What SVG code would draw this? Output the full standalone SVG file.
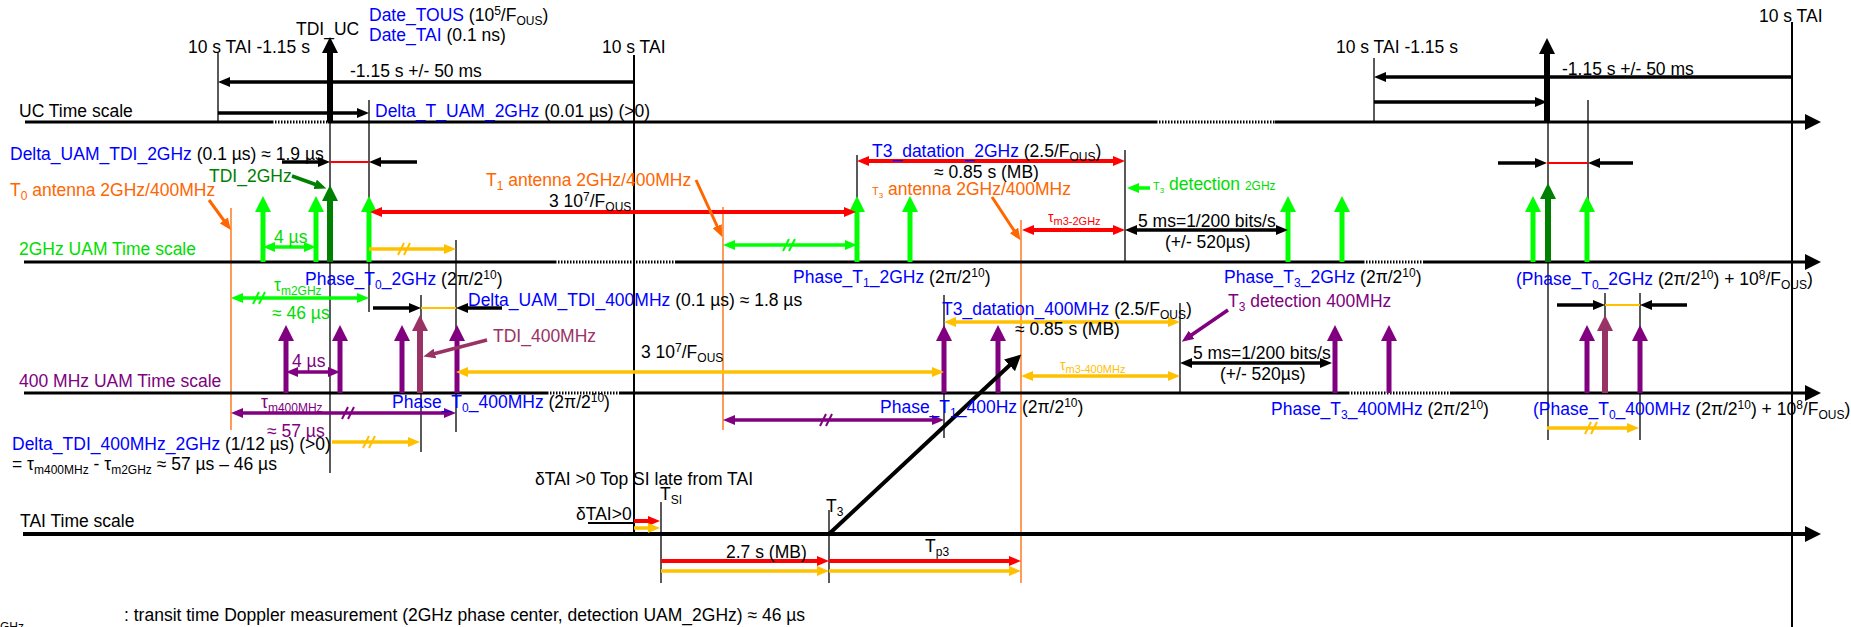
<svg xmlns="http://www.w3.org/2000/svg" width="1851" height="627" viewBox="0 0 1851 627">
<style>
text{font-family:"Liberation Sans",Arial,sans-serif;font-size:17.5px;fill:#000}
.b{fill:#0000ff}.g{fill:#00dd00}.dg{fill:#008000}.o{fill:#ff6600}.r{fill:#ff0000}.y{fill:#ffc000}.p{fill:#800080}.m{fill:#993366}
.s{font-size:12px}
.ax{stroke:#000;stroke-width:3}
.axt{stroke:#000;stroke-width:4}
.dot{stroke:#000;stroke-width:3;stroke-dasharray:1.5 1.5}
.thin{stroke:#000;stroke-width:1.3}
.thk{stroke:#000;stroke-width:2}
.ov{stroke:#ff6600;stroke-width:1.3}
.k{stroke:#000;stroke-width:3.5}
.kr{stroke:#ff0000;stroke-width:4}
.rl{stroke:#ff0000;stroke-width:2}
.yl{stroke:#ffc000;stroke-width:2}
.ky{stroke:#ffc000;stroke-width:3.5}
.kg{stroke:#00ff00;stroke-width:3.5}
.kp{stroke:#800080;stroke-width:3.5}
.ko{stroke:#ff6600;stroke-width:3}
.kd{stroke:#008000;stroke-width:3.5}
.km{stroke:#993366;stroke-width:3.5}
.vg{stroke:#00ff00;stroke-width:5}
.vd{stroke:#008000;stroke-width:6}
.vk{stroke:#000;stroke-width:6}
.vp{stroke:#800080;stroke-width:5}
.vm{stroke:#993366;stroke-width:6}
.sl{fill:none;stroke-width:2}
</style>
<defs>
<marker id="aK" viewBox="0 0 12 10" refX="2" refY="5" markerWidth="12" markerHeight="10" markerUnits="userSpaceOnUse" orient="auto-start-reverse"><path d="M0,0L12,5L0,10z" fill="#000"/></marker>
<marker id="aR" viewBox="0 0 12 10" refX="2" refY="5" markerWidth="12" markerHeight="10" markerUnits="userSpaceOnUse" orient="auto-start-reverse"><path d="M0,0L12,5L0,10z" fill="#ff0000"/></marker>
<marker id="aG" viewBox="0 0 12 10" refX="2" refY="5" markerWidth="12" markerHeight="10" markerUnits="userSpaceOnUse" orient="auto-start-reverse"><path d="M0,0L12,5L0,10z" fill="#00ff00"/></marker>
<marker id="aY" viewBox="0 0 12 10" refX="2" refY="5" markerWidth="12" markerHeight="10" markerUnits="userSpaceOnUse" orient="auto-start-reverse"><path d="M0,0L12,5L0,10z" fill="#ffc000"/></marker>
<marker id="aP" viewBox="0 0 12 10" refX="2" refY="5" markerWidth="12" markerHeight="10" markerUnits="userSpaceOnUse" orient="auto-start-reverse"><path d="M0,0L12,5L0,10z" fill="#800080"/></marker>
<marker id="aO" viewBox="0 0 12 10" refX="2" refY="5" markerWidth="12" markerHeight="10" markerUnits="userSpaceOnUse" orient="auto-start-reverse"><path d="M0,0L12,5L0,10z" fill="#ff6600"/></marker>
<marker id="aD" viewBox="0 0 12 10" refX="2" refY="5" markerWidth="12" markerHeight="10" markerUnits="userSpaceOnUse" orient="auto-start-reverse"><path d="M0,0L12,5L0,10z" fill="#008000"/></marker>
<marker id="aM" viewBox="0 0 12 10" refX="2" refY="5" markerWidth="12" markerHeight="10" markerUnits="userSpaceOnUse" orient="auto-start-reverse"><path d="M0,0L12,5L0,10z" fill="#993366"/></marker>
<marker id="HK" viewBox="0 0 16 16" refX="2" refY="8" markerWidth="16" markerHeight="16" markerUnits="userSpaceOnUse" orient="auto-start-reverse"><path d="M0,0L16,8L0,16z" fill="#000"/></marker>
<marker id="HG" viewBox="0 0 16 16" refX="2" refY="8" markerWidth="16" markerHeight="16" markerUnits="userSpaceOnUse" orient="auto"><path d="M0,0L16,8L0,16z" fill="#00ff00"/></marker>
<marker id="HD" viewBox="0 0 16 16" refX="2" refY="8" markerWidth="16" markerHeight="16" markerUnits="userSpaceOnUse" orient="auto"><path d="M0,0L16,8L0,16z" fill="#008000"/></marker>
<marker id="HP" viewBox="0 0 16 16" refX="2" refY="8" markerWidth="16" markerHeight="16" markerUnits="userSpaceOnUse" orient="auto"><path d="M0,0L16,8L0,16z" fill="#800080"/></marker>
<marker id="HM" viewBox="0 0 16 16" refX="2" refY="8" markerWidth="16" markerHeight="16" markerUnits="userSpaceOnUse" orient="auto"><path d="M0,0L16,8L0,16z" fill="#993366"/></marker>
</defs>
<rect width="1851" height="627" fill="#fff"/>

<g id="guides">
<line class="thin" x1="218" y1="52" x2="218" y2="122"/>
<line class="thin" x1="330" y1="122" x2="330" y2="473"/>
<line class="thin" x1="369" y1="100" x2="369" y2="312"/>
<line class="thin" x1="421" y1="295" x2="421" y2="452"/>
<line class="thin" x1="456" y1="240" x2="456" y2="432"/>
<line class="thk" x1="634" y1="55" x2="634" y2="534"/>
<line class="thin" x1="857" y1="155" x2="857" y2="262"/>
<line class="thin" x1="1125" y1="150" x2="1125" y2="262"/>
<line class="thin" x1="944" y1="295" x2="944" y2="438"/>
<line class="thin" x1="1180" y1="303" x2="1180" y2="393"/>
<line class="thin" x1="1374" y1="58" x2="1374" y2="122"/>
<line class="thin" x1="1548" y1="122" x2="1548" y2="440"/>
<line class="thin" x1="1588" y1="100" x2="1588" y2="262"/>
<line class="thin" x1="1605" y1="293" x2="1605" y2="393"/>
<line class="thin" x1="1640" y1="293" x2="1640" y2="440"/>
<line class="thk" x1="1792" y1="22" x2="1792" y2="627"/>
<line class="thin" x1="661" y1="502" x2="661" y2="583"/>
<line class="thin" x1="829" y1="510" x2="829" y2="583"/>
<line class="ov" x1="231" y1="208" x2="231" y2="430"/>
<line class="ov" x1="723" y1="207" x2="723" y2="430"/>
<line class="ov" x1="1021" y1="220" x2="1021" y2="583"/>
</g>

<g id="uc-scale">
<line class="ax" x1="25" y1="122" x2="272" y2="122"/>
<line class="dot" x1="272" y1="122" x2="328" y2="122"/>
<line class="ax" x1="328" y1="122" x2="1156" y2="122"/>
<line class="dot" x1="1156" y1="122" x2="1275" y2="122"/>
<line class="ax" x1="1275" y1="122" x2="1807" y2="122" marker-end="url(#HK)"/>
<line class="vk" x1="330" y1="122" x2="330" y2="51" marker-end="url(#HK)"/>
<line class="vk" x1="1547" y1="122" x2="1547" y2="52" marker-end="url(#HK)"/>
</g>

<g id="ghz2-scale">
<line class="ax" x1="24" y1="262" x2="555" y2="262"/>
<line class="dot" x1="555" y1="262" x2="675" y2="262"/>
<line class="ax" x1="675" y1="262" x2="1363" y2="262"/>
<line class="dot" x1="1363" y1="262" x2="1423" y2="262"/>
<line class="ax" x1="1423" y1="262" x2="1807" y2="262" marker-end="url(#HK)"/>
<line class="vg" x1="263" y1="262" x2="263" y2="210" marker-end="url(#HG)"/>
<line class="vg" x1="316" y1="262" x2="316" y2="210" marker-end="url(#HG)"/>
<line class="vg" x1="369" y1="262" x2="369" y2="210" marker-end="url(#HG)"/>
<line class="vg" x1="857" y1="262" x2="857" y2="210" marker-end="url(#HG)"/>
<line class="vg" x1="910" y1="262" x2="910" y2="210" marker-end="url(#HG)"/>
<line class="vg" x1="1288" y1="262" x2="1288" y2="210" marker-end="url(#HG)"/>
<line class="vg" x1="1342" y1="262" x2="1342" y2="210" marker-end="url(#HG)"/>
<line class="vg" x1="1533" y1="262" x2="1533" y2="210" marker-end="url(#HG)"/>
<line class="vg" x1="1587" y1="262" x2="1587" y2="210" marker-end="url(#HG)"/>
<line class="vd" x1="330" y1="262" x2="330" y2="199" marker-end="url(#HD)"/>
<line class="vd" x1="1548" y1="262" x2="1548" y2="197" marker-end="url(#HD)"/>
</g>

<g id="mhz400-scale">
<line class="ax" x1="24" y1="393" x2="547" y2="393"/>
<line class="dot" x1="547" y1="393" x2="620" y2="393"/>
<line class="ax" x1="620" y1="393" x2="1348" y2="393"/>
<line class="dot" x1="1348" y1="393" x2="1451" y2="393"/>
<line class="ax" x1="1451" y1="393" x2="1807" y2="393" marker-end="url(#HK)"/>
<line class="vp" x1="286" y1="393" x2="286" y2="339" marker-end="url(#HP)"/>
<line class="vp" x1="340" y1="393" x2="340" y2="339" marker-end="url(#HP)"/>
<line class="vp" x1="402" y1="393" x2="402" y2="339" marker-end="url(#HP)"/>
<line class="vp" x1="457" y1="393" x2="457" y2="339" marker-end="url(#HP)"/>
<line class="vp" x1="944" y1="393" x2="944" y2="339" marker-end="url(#HP)"/>
<line class="vp" x1="998" y1="393" x2="998" y2="339" marker-end="url(#HP)"/>
<line class="vp" x1="1335" y1="393" x2="1335" y2="339" marker-end="url(#HP)"/>
<line class="vp" x1="1389" y1="393" x2="1389" y2="339" marker-end="url(#HP)"/>
<line class="vp" x1="1587" y1="393" x2="1587" y2="339" marker-end="url(#HP)"/>
<line class="vp" x1="1640" y1="393" x2="1640" y2="339" marker-end="url(#HP)"/>
<line class="vm" x1="420" y1="393" x2="420" y2="329" marker-end="url(#HM)"/>
<line class="vm" x1="1605" y1="393" x2="1605" y2="329" marker-end="url(#HM)"/>
</g>

<g id="tai-scale">
<line class="axt" x1="23" y1="534" x2="1807" y2="534" marker-end="url(#HK)"/>
</g>

<g id="connectors">
<line class="k" x1="634" y1="82" x2="228" y2="82" marker-end="url(#aK)"/>
<line class="k" x1="218" y1="113" x2="359" y2="113" marker-end="url(#aK)"/>
<line class="k" x1="1792" y1="77" x2="1384" y2="77" marker-end="url(#aK)"/>
<line class="k" x1="1374" y1="102" x2="1537" y2="102" marker-end="url(#aK)"/>
<line class="k" x1="282" y1="162" x2="320" y2="162" marker-end="url(#aK)"/>
<line class="rl" x1="330" y1="162" x2="369" y2="162"/>
<line class="k" x1="417" y1="162" x2="379" y2="162" marker-end="url(#aK)"/>
<line class="k" x1="1498" y1="163" x2="1537" y2="163" marker-end="url(#aK)"/>
<line class="rl" x1="1547" y1="163" x2="1588" y2="163"/>
<line class="k" x1="1633" y1="163" x2="1598" y2="163" marker-end="url(#aK)"/>
<line class="kr" x1="867" y1="161" x2="1115" y2="161" marker-start="url(#aR)" marker-end="url(#aR)"/>
<line class="kr" x1="380" y1="212" x2="846" y2="212" marker-start="url(#aR)" marker-end="url(#aR)"/>
<line class="kg" x1="273" y1="247" x2="306" y2="247" marker-start="url(#aG)" marker-end="url(#aG)"/>
<line class="ky" x1="369" y1="249" x2="446" y2="249" marker-end="url(#aY)"/>
<path class="sl" stroke="#ffc000" d="M398,255L404,243M404,255L410,243"/>
<line class="kg" x1="733" y1="245" x2="847" y2="245" marker-start="url(#aG)" marker-end="url(#aG)"/>
<path class="sl" stroke="#00ff00" d="M783,251L789,239M789,251L795,239"/>
<line class="kg" x1="1150" y1="188" x2="1137" y2="188" marker-end="url(#aG)"/>
<line class="kr" x1="1032" y1="230" x2="1115" y2="230" marker-start="url(#aR)" marker-end="url(#aR)"/>
<line class="k" x1="1135" y1="230" x2="1278" y2="230" marker-start="url(#aK)" marker-end="url(#aK)"/>
<line class="kg" x1="241" y1="298" x2="359" y2="298" marker-start="url(#aG)" marker-end="url(#aG)"/>
<path class="sl" stroke="#00ff00" d="M253,304L259,292M259,304L265,292"/>
<line class="k" x1="373" y1="308" x2="411" y2="308" marker-end="url(#aK)"/>
<line class="yl" x1="421" y1="308" x2="456" y2="308"/>
<line class="k" x1="502" y1="308" x2="466" y2="308" marker-end="url(#aK)"/>
<line class="k" x1="1557" y1="305" x2="1595" y2="305" marker-end="url(#aK)"/>
<line class="yl" x1="1605" y1="305" x2="1640" y2="305"/>
<line class="k" x1="1687" y1="305" x2="1650" y2="305" marker-end="url(#aK)"/>
<line class="ky" x1="954" y1="322" x2="1170" y2="322" marker-start="url(#aY)" marker-end="url(#aY)"/>
<line class="ky" x1="466" y1="372" x2="934" y2="372" marker-start="url(#aY)" marker-end="url(#aY)"/>
<line class="kp" x1="296" y1="372" x2="330" y2="372" marker-start="url(#aP)" marker-end="url(#aP)"/>
<line class="ky" x1="1031" y1="376" x2="1170" y2="376" marker-start="url(#aY)" marker-end="url(#aY)"/>
<line class="k" x1="1190" y1="363" x2="1322" y2="363" marker-start="url(#aK)" marker-end="url(#aK)"/>
<line class="kp" x1="1228" y1="310" x2="1190" y2="336" marker-end="url(#aP)"/>
<line class="km" x1="487" y1="340" x2="433" y2="354" marker-end="url(#aM)"/>
<line class="kd" x1="292" y1="176" x2="317" y2="185" marker-end="url(#aD)"/>
<line class="ko" x1="209" y1="200" x2="225" y2="222" marker-end="url(#aO)"/>
<line class="ko" x1="696" y1="180" x2="718" y2="228" marker-end="url(#aO)"/>
<line class="ko" x1="992" y1="197" x2="1015" y2="232" marker-end="url(#aO)"/>
<line class="kp" x1="241" y1="413" x2="446" y2="413" marker-start="url(#aP)" marker-end="url(#aP)"/>
<path class="sl" stroke="#800080" d="M342,419L348,407M348,419L354,407"/>
<line class="kp" x1="733" y1="420" x2="934" y2="420" marker-start="url(#aP)" marker-end="url(#aP)"/>
<path class="sl" stroke="#800080" d="M820,426L826,414M826,426L832,414"/>
<line class="ky" x1="332" y1="442" x2="410" y2="442" marker-end="url(#aY)"/>
<path class="sl" stroke="#ffc000" d="M363,448L369,436M369,448L375,436"/>
<line class="ky" x1="1547" y1="428" x2="1629" y2="428" marker-end="url(#aY)"/>
<path class="sl" stroke="#ffc000" d="M1585,434L1591,422M1591,434L1597,422"/>
<line class="axt" x1="829" y1="534" x2="1011" y2="364" marker-end="url(#HK)"/>
<line class="thk" x1="588" y1="523" x2="634" y2="523"/>
<line class="kr" x1="634" y1="521" x2="650" y2="521" marker-end="url(#aR)"/>
<line class="ky" x1="634" y1="528" x2="650" y2="528" marker-end="url(#aY)"/>
<line class="kr" x1="661" y1="561" x2="819" y2="561" marker-end="url(#aR)"/>
<line class="kr" x1="829" y1="561" x2="1011" y2="561" marker-end="url(#aR)"/>
<line class="ky" x1="661" y1="571" x2="819" y2="571" marker-end="url(#aY)"/>
<line class="ky" x1="829" y1="571" x2="1011" y2="571" marker-end="url(#aY)"/>
</g>

<g id="labels">
<text x="296" y="35">TDI_UC</text>
<text x="369" y="21"><tspan class="b">Date_TOUS</tspan> (10<tspan class="s" dy="-6">5</tspan><tspan dy="6">/F</tspan><tspan class="s" dy="4">OUS</tspan><tspan dy="-4">)</tspan></text>
<text x="369" y="41"><tspan class="b">Date_TAI</tspan> (0.1 ns)</text>
<text x="188" y="53">10 s TAI -1.15 s</text>
<text x="602" y="53">10 s TAI</text>
<text x="350" y="77">-1.15 s +/- 50 ms</text>
<text x="19" y="117">UC Time scale</text>
<text x="375" y="117"><tspan class="b">Delta_T_UAM_2GHz</tspan> (0.01 µs) (&gt;0)</text>
<text x="1336" y="53">10 s TAI -1.15 s</text>
<text x="1759" y="22">10 s TAI</text>
<text x="1562" y="75">-1.15 s +/- 50 ms</text>

<text x="10" y="160"><tspan class="b">Delta_UAM_TDI_2GHz</tspan> (0.1 µs) ≈ 1.9 µs</text>
<text class="dg" x="209" y="182">TDI_2GHz</text>
<text class="o" x="10" y="196">T<tspan class="s" dy="4">0</tspan><tspan dy="-4"> antenna 2GHz/400MHz</tspan></text>
<text class="o" x="486" y="186">T<tspan class="s" dy="4">1</tspan><tspan dy="-4"> antenna 2GHz/400MHz</tspan></text>
<text x="872" y="157"><tspan class="b">T3_datation_2GHz</tspan> (2.5/F<tspan class="s" dy="4">OUS</tspan><tspan dy="-4">)</tspan></text>
<text x="934" y="178">≈ 0.85 s (MB)</text>
<text class="o" x="872" y="195"><tspan font-size="11">T</tspan><tspan font-size="8" dy="3">3</tspan><tspan dy="-3"> antenna 2GHz/400MHz</tspan></text>
<text class="g" x="1153" y="190"><tspan font-size="11">T</tspan><tspan font-size="8" dy="3">3</tspan><tspan dy="-3"> detection </tspan><tspan font-size="12">2GHz</tspan></text>
<text x="549" y="207">3 10<tspan class="s" dy="-6">7</tspan><tspan dy="6">/F</tspan><tspan class="s" dy="4">OUS</tspan></text>
<text class="g" x="19" y="255">2GHz UAM Time scale</text>
<text class="g" x="274" y="243">4 µs</text>
<text class="r" x="1048" y="222"><tspan font-size="14">τ</tspan><tspan font-size="11" dy="3">m3-2GHz</tspan></text>
<text x="1138" y="227">5 ms=1/200 bits/s</text>
<text x="1165" y="248">(+/- 520µs)</text>
<text x="305" y="285"><tspan class="b">Phase_T<tspan class="s" dy="4">0</tspan><tspan dy="-4">_2GHz</tspan></tspan> (2π/2<tspan class="s" dy="-6">10</tspan><tspan dy="6">)</tspan></text>
<text x="793" y="283"><tspan class="b">Phase_T<tspan class="s" dy="4">1</tspan><tspan dy="-4">_2GHz</tspan></tspan> (2π/2<tspan class="s" dy="-6">10</tspan><tspan dy="6">)</tspan></text>
<text x="1224" y="283"><tspan class="b">Phase_T<tspan class="s" dy="4">3</tspan><tspan dy="-4">_2GHz</tspan></tspan> (2π/2<tspan class="s" dy="-6">10</tspan><tspan dy="6">)</tspan></text>
<text x="1516" y="285"><tspan class="b">(Phase_T<tspan class="s" dy="4">0</tspan><tspan dy="-4">_2GHz</tspan></tspan> (2π/2<tspan class="s" dy="-6">10</tspan><tspan dy="6">) + 10</tspan><tspan class="s" dy="-6">8</tspan><tspan dy="6">/F</tspan><tspan class="s" dy="4">OUS</tspan><tspan dy="-4">)</tspan></text>

<text class="g" x="274" y="291">τ<tspan class="s" dy="4">m2GHz</tspan></text>
<text class="g" x="272" y="319">≈ 46 µs</text>
<text x="468" y="306"><tspan class="b">Delta_UAM_TDI_400MHz</tspan> (0.1 µs) ≈ 1.8 µs</text>
<text x="942" y="315"><tspan class="b">T3_datation_400MHz</tspan> (2.5/F<tspan class="s" dy="4">OUS</tspan><tspan dy="-4">)</tspan></text>
<text x="1015" y="335">≈ 0.85 s (MB)</text>
<text class="p" x="1228" y="307">T<tspan class="s" dy="4">3</tspan><tspan dy="-4"> detection 400MHz</tspan></text>
<text class="m" x="493" y="342">TDI_400MHz</text>
<text x="641" y="358">3 10<tspan class="s" dy="-6">7</tspan><tspan dy="6">/F</tspan><tspan class="s" dy="4">OUS</tspan></text>
<text class="p" x="292" y="367">4 µs</text>
<text class="y" x="1060" y="370"><tspan font-size="14">τ</tspan><tspan font-size="11" dy="3">m3-400MHz</tspan></text>
<text x="1193" y="359">5 ms=1/200 bits/s</text>
<text x="1220" y="380">(+/- 520µs)</text>
<text class="p" x="19" y="387">400 MHz UAM Time scale</text>
<text x="392" y="408"><tspan class="b">Phase_T<tspan class="s" dy="4">0</tspan><tspan dy="-4">_400MHz</tspan></tspan> (2π/2<tspan class="s" dy="-6">10</tspan><tspan dy="6">)</tspan></text>
<text x="880" y="413"><tspan class="b">Phase_T<tspan class="s" dy="4">1</tspan><tspan dy="-4">_400Hz</tspan></tspan> (2π/2<tspan class="s" dy="-6">10</tspan><tspan dy="6">)</tspan></text>
<text x="1271" y="415"><tspan class="b">Phase_T<tspan class="s" dy="4">3</tspan><tspan dy="-4">_400MHz</tspan></tspan> (2π/2<tspan class="s" dy="-6">10</tspan><tspan dy="6">)</tspan></text>
<text x="1533" y="415"><tspan class="b">(Phase_T<tspan class="s" dy="4">0</tspan><tspan dy="-4">_400MHz</tspan></tspan> (2π/2<tspan class="s" dy="-6">10</tspan><tspan dy="6">) + 10</tspan><tspan class="s" dy="-6">8</tspan><tspan dy="6">/F</tspan><tspan class="s" dy="4">OUS</tspan><tspan dy="-4">)</tspan></text>
<text class="p" x="261" y="408">τ<tspan class="s" dy="4">m400MHz</tspan></text>
<text class="p" x="267" y="437">≈ 57 µs</text>
<text x="12" y="450"><tspan class="b">Delta_TDI_400MHz_2GHz</tspan> (1/12 µs) (&gt;0)</text>
<text x="12" y="470">= τ<tspan class="s" dy="4">m400MHz</tspan><tspan dy="-4"> - τ</tspan><tspan class="s" dy="4">m2GHz</tspan><tspan dy="-4"> ≈ 57 µs – 46 µs</tspan></text>
<text x="535" y="485">δTAI &gt;0 Top SI late from TAI</text>
<text x="576" y="520">δTAI&gt;0</text>
<text x="20" y="527">TAI Time scale</text>
<text x="660" y="500">T<tspan class="s" dy="4">SI</tspan></text>
<text x="826" y="512">T<tspan class="s" dy="4">3</tspan></text>
<text x="726" y="558">2.7 s (MB)</text>
<text x="925" y="552">T<tspan class="s" dy="4">p3</tspan></text>
<text x="124" y="621">: transit time Doppler measurement (2GHz phase center, detection UAM_2GHz) ≈ 46 µs</text>
<text class="s" x="0" y="631">GHz</text>
</g>
</svg>
